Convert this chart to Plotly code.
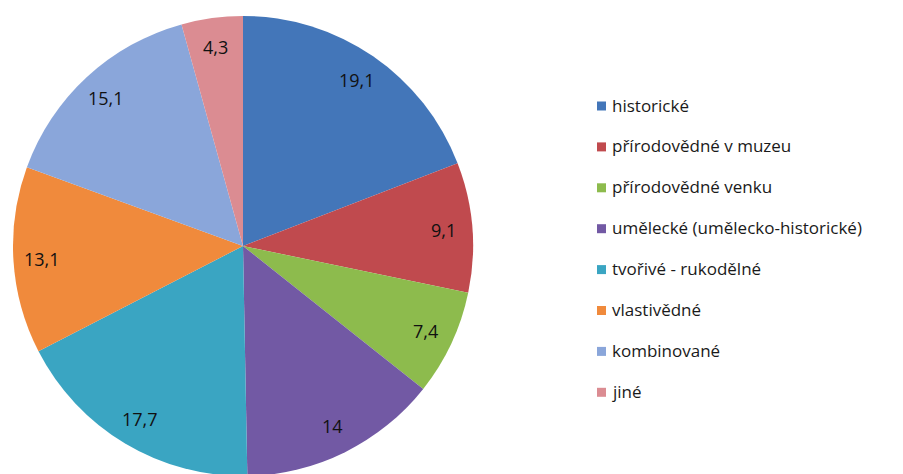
import math
import plotly.graph_objects as go

labels = ["historické", "přírodovědné v muzeu", "přírodovědné venku",
          "umělecké (umělecko-historické)", "tvořivé - rukodělné",
          "vlastivědné", "kombinované", "jiné"]
values = [19.1, 9.1, 7.4, 14, 17.7, 13.1, 15.1, 4.3]
colors = ["#4376B9", "#C04A4E", "#8DBB4D", "#7259A4", "#3AA5C2",
          "#F08A3C", "#8AA6DA", "#DB8C92"]

W, H = 903, 474
OFF = 8  # default page body margin of the browser


def px(sx):
    return (sx - OFF) / W


def py(sy):
    return 1 - (sy - OFF) / H


# pie geometry (screen pixels)
CX, CY, R = 243, 246, 230
LABEL_R = 0.875 * R

fig = go.Figure()
fig.add_trace(go.Pie(
    labels=labels, values=values, sort=False, direction="clockwise",
    rotation=0, marker=dict(colors=colors, line=dict(width=0)),
    textinfo="none", showlegend=False, hoverinfo="label+value",
    domain=dict(x=[px(CX - R), px(CX + R)], y=[py(CY + R), py(CY - R)]),
))

total = sum(values)
cum = 0.0
annotations = []
for v in values:
    mid = (cum + v / 2) / total * 2 * math.pi
    cum += v
    sx = CX + LABEL_R * math.sin(mid)
    sy = CY - LABEL_R * math.cos(mid)
    annotations.append(dict(
        x=px(sx), y=py(sy), xref="paper", yref="paper", showarrow=False,
        text=f"{v:g}".replace(".", ","), xanchor="center", yanchor="middle",
        font=dict(family="Open Sans", size=18, color="#111111"),
    ))

shapes = []
LX, LY0, LDY, SQ = 597, 106, 40.9, 9
for i, (lab, col) in enumerate(zip(labels, colors)):
    cy = LY0 + i * LDY
    shapes.append(dict(type="rect", xref="paper", yref="paper",
                       x0=px(LX), x1=px(LX + SQ), y0=py(cy + SQ / 2), y1=py(cy - SQ / 2),
                       fillcolor=col, line=dict(width=0)))
    annotations.append(dict(
        x=px(LX + SQ + 4), y=py(cy - 1), xref="paper", yref="paper", showarrow=False,
        text=lab, xanchor="left", yanchor="middle",
        font=dict(family="Open Sans", size=17, color="#1a1a1a"),
    ))

fig.update_layout(
    width=W, height=H, margin=dict(l=0, r=0, t=0, b=0),
    paper_bgcolor="white", plot_bgcolor="white",
    showlegend=False, annotations=annotations, shapes=shapes,
)
fig.write_html("out.html")
